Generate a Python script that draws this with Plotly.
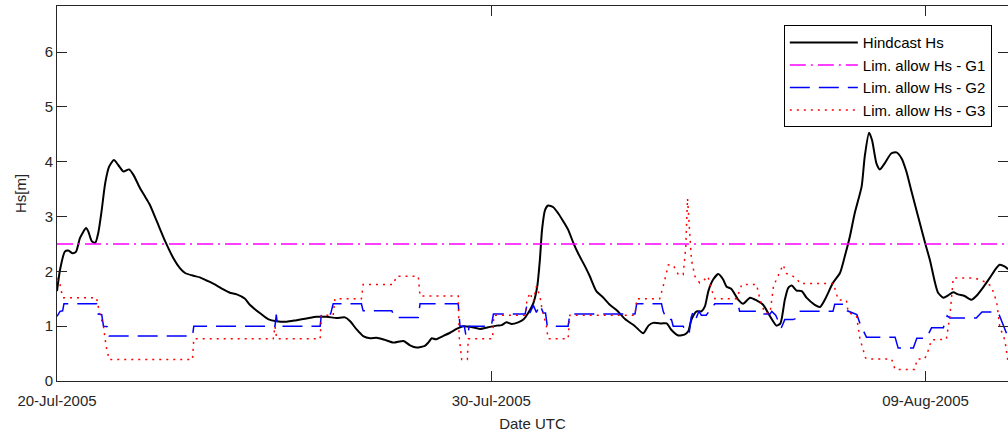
import pandas as pd
import plotly.graph_objects as go

# Time origin of the record; all time arrays are offsets in days from it
T0 = pd.Timestamp("2005-07-20 00:00")

# Hindcast significant wave height
hind_day = [0.00, 0.07, 0.18, 0.26, 0.36, 0.44, 0.53, 0.67, 0.72, 0.80, 0.88, 0.95, 1.03, 1.11,
            1.20, 1.31, 1.41, 1.53, 1.66, 1.76, 1.91, 2.03, 2.14, 2.30, 2.49, 2.68, 2.83, 2.95,
            3.14, 3.29, 3.48, 3.68, 3.83, 3.98, 4.14, 4.33, 4.44, 4.67, 4.86, 5.06, 5.29, 5.52,
            5.75, 5.98, 6.21, 6.44, 6.63, 6.75, 6.90, 7.05, 7.21, 7.36, 7.55, 7.75, 7.98, 8.13,
            8.28, 8.47, 8.55, 8.63, 8.72, 8.89, 9.05, 9.20, 9.36, 9.51, 9.74, 9.93, 10.12, 10.24,
            10.35, 10.47, 10.62, 10.74, 10.85, 10.97, 11.06, 11.12, 11.17, 11.24, 11.31, 11.43,
            11.54, 11.66, 11.77, 11.89, 12.00, 12.16, 12.27, 12.42, 12.58, 12.73, 12.89, 13.08,
            13.31, 13.50, 13.62, 13.73, 13.92, 14.04, 14.15, 14.31, 14.46, 14.54, 14.61, 14.73,
            14.84, 14.92, 15.00, 15.11, 15.23, 15.34, 15.42, 15.53, 15.69, 15.80, 15.96, 16.11,
            16.26, 16.42, 16.57, 16.66, 16.76, 16.84, 16.92, 17.03, 17.15, 17.26, 17.45, 17.57,
            17.68, 17.87, 18.03, 18.14, 18.26, 18.37, 18.53, 18.60, 18.70, 18.77, 18.87, 18.95,
            19.06, 19.21, 19.33, 19.45, 19.56, 19.68, 19.83, 19.99, 20.10, 20.22, 20.29, 20.41,
            20.52, 20.64, 20.75, 20.90, 21.06, 21.17, 21.32, 21.48, 21.63, 21.71, 21.82, 21.90]
hind_hs = [1.64, 2.03, 2.36, 2.38, 2.33, 2.36, 2.61, 2.79, 2.73, 2.55, 2.52, 2.70, 3.12, 3.61,
           3.91, 4.03, 3.94, 3.82, 3.86, 3.76, 3.52, 3.36, 3.21, 2.91, 2.55, 2.24, 2.06, 1.97,
           1.92, 1.89, 1.82, 1.74, 1.67, 1.61, 1.58, 1.50, 1.39, 1.24, 1.13, 1.09, 1.08, 1.11,
           1.14, 1.17, 1.17, 1.15, 1.16, 1.09, 0.94, 0.82, 0.78, 0.79, 0.75, 0.70, 0.73, 0.65,
           0.61, 0.64, 0.70, 0.78, 0.76, 0.82, 0.88, 0.95, 1.00, 0.99, 0.95, 0.98, 1.01, 1.02,
           1.07, 1.04, 1.07, 1.12, 1.24, 1.42, 1.73, 2.21, 2.76, 3.12, 3.20, 3.17,
           3.06, 2.91, 2.76, 2.52, 2.33, 2.09, 1.91, 1.64, 1.52, 1.39, 1.29, 1.13,
           1.00, 0.87, 1.01, 1.06, 1.05, 1.05, 0.93, 0.83, 0.85, 0.91, 1.12, 1.27,
           1.27, 1.36, 1.64, 1.85, 1.95, 1.85, 1.72, 1.68, 1.48, 1.41, 1.52, 1.47,
           1.39, 1.18, 1.01, 1.05, 1.48, 1.70, 1.74, 1.65, 1.64, 1.52, 1.39, 1.35,
           1.48, 1.79, 1.97, 2.27, 2.64, 3.06, 3.55, 4.09, 4.53, 4.39, 3.97, 3.86,
           3.97, 4.15, 4.17, 4.06, 3.82, 3.45, 3.00, 2.52, 2.21, 1.79, 1.61, 1.52,
           1.56, 1.62, 1.58, 1.55, 1.48, 1.55, 1.70, 1.88, 2.06, 2.12, 2.09, 2.04]

# Limiting allowable Hs, group G1 (constant)
g1_day = [0.00, 21.90]
g1_hs = [2.5, 2.5]

# Limiting allowable Hs, group G2
g2_day = [0.00, 0.07, 0.13, 0.16, 0.91, 0.95, 1.03, 1.07, 1.16, 1.20, 3.12, 3.15, 5.02, 5.05,
          5.08, 6.06, 6.09, 6.30, 6.36, 7.01, 7.05, 7.71, 7.78, 8.32, 8.36, 9.24, 9.28, 9.38,
          9.42, 9.46, 9.49, 10.00, 10.05, 10.78, 10.82, 10.89, 10.97, 11.04, 11.12, 11.20,
          11.25, 11.29, 11.77, 11.81, 13.31, 13.35, 13.92, 13.96, 14.04, 14.15, 14.19, 14.42,
          14.48, 14.56, 14.60, 14.65, 14.72, 14.78, 14.84, 14.95, 15.15, 15.68, 15.72, 16.15,
          16.19, 16.42, 16.46, 16.55, 16.68, 16.76, 16.95, 17.05, 17.10, 17.87, 17.91, 18.16,
          18.20, 18.42, 18.50, 18.64, 19.30, 19.37, 19.72, 19.80, 20.02, 20.14, 20.41, 20.50,
          20.56, 21.17, 21.30, 21.64, 21.70, 21.80, 21.90]
g2_hs = [1.18, 1.27, 1.28, 1.41, 1.41, 1.22, 1.21, 1.00, 0.99, 0.82, 0.82, 1.00, 1.00, 1.21,
         1.00, 1.00, 1.22, 1.22, 1.41, 1.41, 1.28, 1.28, 1.16, 1.16, 1.41, 1.41, 1.00, 1.00,
         0.82, 0.82, 1.00, 1.00, 1.22, 1.22, 1.38, 1.24, 1.38, 1.25, 1.39, 1.24,
         1.24, 1.00, 1.00, 1.22, 1.22, 1.41, 1.41, 1.27, 1.12, 1.12, 1.00, 1.00,
         0.88, 0.88, 1.15, 1.27, 1.15, 1.27, 1.20, 1.20, 1.41, 1.41, 1.27, 1.27,
         1.22, 1.22, 1.27, 1.20, 0.97, 1.12, 1.12, 1.15, 1.27, 1.27, 1.40, 1.40,
         1.28, 1.21, 1.03, 0.80, 0.80, 0.60, 0.60, 0.78, 0.78, 0.97, 0.97, 1.19,
         1.15, 1.15, 1.26, 1.26, 1.20, 1.00, 0.80]

# Limiting allowable Hs, group G3
g3_day = [0.00, 0.07, 0.13, 0.91, 0.98, 1.07, 1.13, 1.20, 3.12, 3.15, 4.98, 5.02, 5.06, 6.06,
          6.09, 6.36, 6.40, 7.01, 7.05, 7.74, 7.82, 8.32, 8.36, 9.24, 9.26, 9.32, 9.45, 9.47,
          10.03, 10.06, 10.78, 10.82, 10.89, 10.97, 11.04, 11.12, 11.16, 11.27, 11.31, 11.77,
          11.81, 13.31, 13.35, 13.88, 13.96, 14.08, 14.19, 14.31, 14.42, 14.48, 14.52, 14.56,
          14.61, 14.69, 14.80, 14.91, 14.99, 15.07, 15.15, 15.65, 15.77, 16.11, 16.19, 16.30,
          16.42, 16.50, 16.61, 16.72, 16.80, 16.90, 17.05, 17.11, 17.88, 17.93, 17.99, 18.18,
          18.22, 18.41, 18.49, 18.62, 18.68, 19.22, 19.30, 19.75, 19.81, 19.98, 20.06, 20.14,
          20.48, 20.56, 20.64, 21.10, 21.20, 21.40, 21.52, 21.64, 21.71, 21.83, 21.90]
g3_hs = [1.88, 1.76, 1.52, 1.52, 1.24, 1.00, 0.64, 0.39, 0.39, 0.77, 0.77, 1.00, 0.77, 0.77,
         1.20, 1.20, 1.50, 1.50, 1.76, 1.76, 1.91, 1.91, 1.55, 1.55, 0.82, 0.39, 0.39, 0.77,
         0.77, 1.20, 1.20, 1.45, 1.61, 1.45, 1.73, 1.55, 1.36, 1.00, 0.77, 0.77,
         1.20, 1.20, 1.50, 1.50, 1.73, 2.12, 2.11, 1.94, 1.94, 2.45, 3.33, 2.76,
         2.21, 1.91, 1.79, 1.85, 1.91, 1.67, 1.50, 1.50, 1.76, 1.76, 1.48, 1.24,
         1.24, 1.73, 1.91, 2.12, 1.96, 1.94, 1.85, 1.78, 1.78, 1.62, 1.48, 1.47,
         1.25, 1.19, 0.77, 0.42, 0.40, 0.40, 0.21, 0.21, 0.40, 0.40, 0.55, 0.75,
         0.76, 1.17, 1.88, 1.88, 1.86, 1.80, 1.72, 1.44, 0.99, 0.74, 0.35]

x_tick_days = [0, 10, 20]
y_ticks = [0, 1, 2, 3, 4, 5, 6]
x_end_day = 21.90
y_max = 6.84


def to_time(days):
    return T0 + pd.to_timedelta(days, unit="D")


FONT = "Liberation Sans, Arial, Helvetica, sans-serif"
AX = "#262626"

fig = go.Figure()
fig.add_trace(go.Scatter(
    x=to_time(hind_day), y=hind_hs, mode="lines", name="Hindcast Hs",
    line=dict(color="black", width=2, shape="spline", smoothing=0.6)))
fig.add_trace(go.Scatter(
    x=to_time(g1_day), y=g1_hs, mode="lines", name="Lim. allow Hs - G1",
    line=dict(color="#FF00FF", width=1.5, dash="16px,5px,2px,5px")))
fig.add_trace(go.Scatter(
    x=to_time(g2_day), y=g2_hs, mode="lines", name="Lim. allow Hs - G2",
    line=dict(color="#0000FF", width=1.5, dash="20px,9px")))
fig.add_trace(go.Scatter(
    x=to_time(g3_day), y=g3_hs, mode="lines", name="Lim. allow Hs - G3",
    line=dict(color="#FF0000", width=1.5, dash="2px,5px")))

fig.update_layout(
    width=1008, height=435,
    margin=dict(l=57, r=0, t=6, b=54),
    paper_bgcolor="white", plot_bgcolor="white",
    font=dict(family=FONT, size=15, color=AX),
    showlegend=True,
    legend=dict(
        x=0.983, y=0.949, xanchor="right", yanchor="top",
        bgcolor="white", bordercolor="black", borderwidth=1,
        font=dict(family=FONT, size=15, color="black"),
        itemwidth=68,
    ),
)
fig.update_xaxes(
    type="date",
    range=[to_time(0), to_time(x_end_day)],
    tickvals=list(to_time(x_tick_days)),
    tickformat="%d-%b-%Y",
    ticks="inside", ticklen=10, tickcolor=AX, tickwidth=1,
    showline=True, linecolor=AX, linewidth=1, mirror="ticks",
    showgrid=False, zeroline=False,
    ticklabelstandoff=6,
    tickfont=dict(size=15, color=AX),
    title=dict(text="Date UTC", font=dict(size=15, color=AX), standoff=10),
)
fig.update_yaxes(
    range=[0, y_max],
    tickvals=y_ticks,
    ticks="inside", ticklen=10, tickcolor=AX, tickwidth=1,
    showline=True, linecolor=AX, linewidth=1, mirror="ticks",
    showgrid=False, zeroline=False,
    tickfont=dict(size=15, color=AX),
    title=dict(text="Hs[m]", font=dict(size=15, color=AX), standoff=14),
)

fig.write_html("out.html")
